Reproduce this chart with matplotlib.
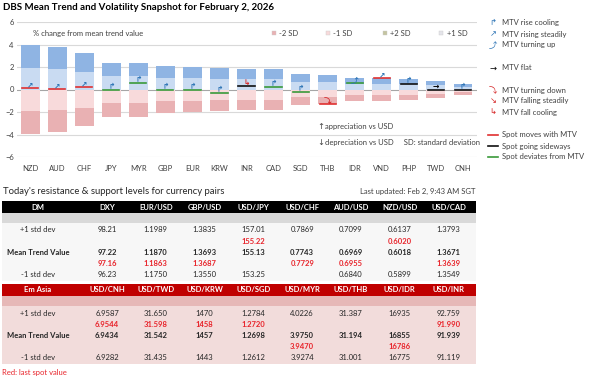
import matplotlib.pyplot as plt
from matplotlib.patches import Rectangle
import numpy as np

plt.rcParams['font.family'] = ['Lato', 'DejaVu Sans']
SYM = ['DejaVu Sans', 'Noto Sans CJK JP']

# chart data (% change from mean trend value)
ccy = ['NZD', 'AUD', 'CHF', 'JPY', 'MYR', 'GBP', 'EUR', 'KRW', 'INR', 'CAD',
       'SGD', 'THB', 'IDR', 'VND', 'PHP', 'TWD', 'CNH']
sd1 = [1.95, 1.85, 1.6, 1.2, 1.2, 1.05, 1.0, 0.95, 0.9, 0.9,
       0.69, 0.65, 0.5, 0.52, 0.46, 0.38, 0.25]
sd2 = [3.95, 3.75, 3.25, 2.4, 2.4, 2.1, 2.0, 1.9, 1.8, 1.8,
       1.38, 1.32, 1.0, 1.05, 0.93, 0.76, 0.5]
spot = [0.1, 0.05, 0.25, -0.05, 0.6, -0.05, -0.05, -0.3, 0.3, 0.2,
        -0.25, -1.3, 0.55, 1.0, 0.5, 0.0, -0.05]
spot_state = ['with', 'with', 'with', 'dev', 'dev', 'dev', 'dev', 'dev', 'side', 'dev',
              'dev', 'with', 'dev', 'with', 'side', 'side', 'side']
trend = ['rise_steady', 'rise_steady', 'rise_steady', 'rise_cool', 'rise_cool', 'rise_cool',
         'rise_cool', 'rise_cool', 'fall_cool', 'rise_cool', 'rise_cool', 'turn_down',
         'turn_up', 'rise_steady', 'rise_cool', 'flat', 'rise_cool']

# table data
dm_cols = ['DXY', 'EUR/USD', 'GBP/USD', 'USD/JPY', 'USD/CHF', 'AUD/USD', 'NZD/USD', 'USD/CAD']
dm_up = ['98.21', '1.1989', '1.3835', '157.01', '0.7869', '0.7099', '0.6137', '1.3793']
dm_spot_hi = ['', '', '', '155.22', '', '', '0.6020', '']
dm_mtv = ['97.22', '1.1870', '1.3693', '155.13', '0.7743', '0.6969', '0.6018', '1.3671']
dm_spot_lo = ['97.16', '1.1863', '1.3687', '', '0.7729', '0.6955', '', '1.3639']
dm_dn = ['96.23', '1.1750', '1.3550', '153.25', '', '0.6840', '0.5899', '1.3549']

em_cols = ['USD/CNH', 'USD/TWD', 'USD/KRW', 'USD/SGD', 'USD/MYR', 'USD/THB', 'USD/IDR', 'USD/INR']
em_up = ['6.9587', '31.650', '1470', '1.2784', '4.0226', '31.387', '16935', '92.759']
em_spot_hi = ['6.9544', '31.598', '1458', '1.2720', '', '', '', '91.990']
em_mtv = ['6.9434', '31.542', '1457', '1.2698', '3.9750', '31.194', '16855', '91.939']
em_spot_lo = ['', '', '', '', '3.9470', '', '16786', '']
em_dn = ['6.9282', '31.435', '1443', '1.2612', '3.9274', '31.001', '16775', '91.119']

W, H = 605, 378
fig = plt.figure(figsize=(W / 100, H / 100), dpi=100)
fig.patch.set_facecolor('white')

c_p2, c_p1 = '#8fb4e3', '#c9dbf2'
c_m1, c_m2 = '#f8dadb', '#e9b1b3'
blue, red = '#2e75b6', '#d62728'
spot_col = {'with': '#e03030', 'side': '#111111', 'dev': '#3a9a3a'}
glyph = {'rise_cool': ('\u21b1', blue), 'rise_steady': ('\u2197', blue),
         'turn_up': ('\u2934', blue), 'flat': ('\u2192', 'black'),
         'turn_down': ('\u2935', red), 'fall_steady': ('\u2198', red),
         'fall_cool': ('\u21b3', red)}

# ---- chart ----
ax = fig.add_axes([16.5 / W, 1 - 157 / H, 460 / W, 135 / H])
x = np.arange(len(ccy))
sd1 = np.array(sd1)
sd2 = np.array(sd2)
bw = 0.7
ax.bar(x, sd1, bw, color=c_p1, zorder=2)
ax.bar(x, sd2 - sd1, bw, bottom=sd1, color=c_p2, zorder=2)
ax.bar(x, -sd1, bw, color=c_m1, zorder=2)
ax.bar(x, -(sd2 - sd1), bw, bottom=-sd1, color=c_m2, zorder=2)
for i in range(len(ccy)):
    ax.plot([x[i] - 0.3, x[i] + 0.3], [spot[i], spot[i]], color=spot_col[spot_state[i]],
            lw=1.2, zorder=3)
    g, col = glyph[trend[i]]
    ax.text(x[i], spot[i] + 0.28, g, color=col, fontsize=5.5, ha='center', va='center',
            family=SYM, fontweight='bold', zorder=4)
ax.set_xlim(-0.5, len(ccy) - 0.5)
ax.set_ylim(-6, 6)
ax.set_yticks([-6, -4, -2, 0, 2, 4, 6])
ax.set_xticks(x)
ax.set_xticklabels(ccy)
ax.tick_params(length=0, labelsize=5.5, colors='#404040', pad=6)
ax.tick_params(axis='y', pad=2)
for s in ax.spines.values():
    s.set_visible(False)
for v in [-6, -4, -2, 2, 4, 6]:
    ax.axhline(v, color='#d9d9d9', lw=0.8, zorder=1)
ax.axhline(0, color='#a6a6a6', lw=0.8, zorder=1)
ax.text(0.1, 5.0, '% change from mean trend value', fontsize=5.5, color='#404040', va='center')
for xs, lab, col in [(10.4, '-2 SD', c_m2), (12.4, '-1 SD', c_m1),
                     (14.5, '+2 SD', '#c4c4a0'), (16.6, '+1 SD', '#e4e4ea')]:
    ax.scatter([xs - 1.4], [5.0], marker='s', s=10, color=col, edgecolors='#cccccc',
               linewidths=0.3, clip_on=False)
    ax.text(xs - 1.2, 5.0, lab, fontsize=5.5, color='#404040', va='center')
ax.text(10.6, -3.25, '\u2191', fontsize=6, color='#404040', va='center', family=SYM)
ax.text(10.9, -3.25, 'appreciation vs USD', fontsize=5.5, color='#404040', va='center')
ax.text(10.6, -4.75, '\u2193', fontsize=6, color='#404040', va='center', family=SYM)
ax.text(10.9, -4.75, 'depreciation vs USD     SD: standard deviation', fontsize=5.5,
        color='#404040', va='center')

fig.text(3 / W, 1 - 8 / H, 'DBS Mean Trend and Volatility Snapshot for February 2, 2026',
         fontsize=7, fontweight='bold', va='center')

# ---- overlay for legend and tables (pixel coords) ----
ov = fig.add_axes([0, 0, 1, 1], zorder=5)
ov.set_xlim(0, W)
ov.set_ylim(H, 0)
ov.axis('off')
ov.patch.set_alpha(0)

leg = [('\u21b1', blue, 'MTV rise cooling', 23), ('\u2197', blue, 'MTV rising steadily', 34),
       ('\u2934', blue, 'MTV turning up', 45), ('\u2192', 'black', 'MTV flat', 68),
       ('\u2935', red, 'MTV turning down', 90), ('\u2198', red, 'MTV falling steadily', 101),
       ('\u21b3', red, 'MTV fall cooling', 112)]
for g, col, lab, yy in leg:
    ov.text(493, yy, g, color=col, fontsize=6, ha='center', va='center', family=SYM)
    ov.text(502, yy, lab, fontsize=5.5, color='#404040', va='center')
for col, lab, yy in [('#e03030', 'Spot moves with MTV', 135), ('#111111', 'Spot going sideways', 146),
                     ('#3a9a3a', 'Spot deviates from MTV', 157)]:
    ov.plot([488, 498], [yy, yy], color=col, lw=1.2)
    ov.text(502, yy, lab, fontsize=5.5, color='#404040', va='center')

ov.text(3, 191, "Today's resistance & support levels for currency pairs", fontsize=6.8,
        color='#262626', va='center')
ov.text(475, 191, 'Last updated: Feb 2, 9:43 AM SGT', fontsize=5.5, color='#404040',
        va='center', ha='right')

col_x = [107 + 48.8 * k for k in range(8)]
labels = ['+1 std dev', '', 'Mean Trend Value', '', '-1 std dev']


def draw_table(y0, name, cols, rows, head_col, band_col, body_col, txt_col):
    ov.add_patch(Rectangle((2, y0), 474, 12, color=head_col, lw=0))
    ov.add_patch(Rectangle((2, y0 + 12), 474, 10, color=band_col, lw=0))
    ov.add_patch(Rectangle((2, y0 + 22), 474, 58, color=body_col, lw=0))
    ov.text(38, y0 + 6, name, color=txt_col, fontsize=5.5, fontweight='bold',
            ha='center', va='center')
    for k, c in enumerate(cols):
        ov.text(col_x[k], y0 + 6, c, color=txt_col, fontsize=5.5, fontweight='bold',
                ha='center', va='center')
    for r, vals in enumerate(rows):
        yy = y0 + 29 + 11.2 * r
        bold = r in (1, 2, 3)
        colr = '#e8242b' if r in (1, 3) else '#262626'
        if labels[r]:
            ov.text(38, yy, labels[r], fontsize=5.5, color='#262626', ha='center', va='center',
                    fontweight='bold' if r == 2 else 'normal')
        for k, v in enumerate(vals):
            ov.text(col_x[k], yy, v, fontsize=5.5, color=colr, ha='center', va='center',
                    fontweight='bold' if bold else 'normal')


draw_table(201, 'DM', dm_cols, [dm_up, dm_spot_hi, dm_mtv, dm_spot_lo, dm_dn],
           '#000000', '#d9d9d9', '#f7f7f7', 'white')
draw_table(284, 'Em Asia', em_cols, [em_up, em_spot_hi, em_mtv, em_spot_lo, em_dn],
           '#c00000', '#e6b8b7', '#f2dcdb', 'white')
ov.text(2, 372, 'Red: last spot value', fontsize=5.5, color='#e8242b', va='center')

fig.savefig('out.png', dpi=100)
